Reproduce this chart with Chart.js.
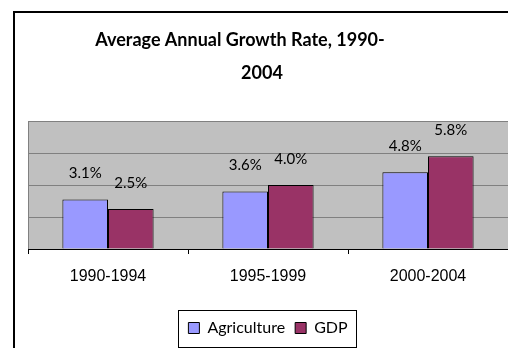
<!DOCTYPE html>
<html>
<head>
<meta charset="utf-8">
<script src="https://cdn.jsdelivr.net/npm/chart.js@4/dist/chart.umd.min.js"></script>
<style>
  html, body { margin: 0; padding: 0; background: #fff; overflow: hidden; }
  #wrap { position: relative; width: 508px; height: 348px; overflow: hidden; }
  #frame {
    position: absolute; left: 13px; top: 11px; width: 520px; height: 360px;
    border-left: 2px solid #000; border-top: 2px solid #000;
  }
  #myBarChart { position: absolute; left: 0; top: 0; }
</style>
</head>
<body>
<div id="wrap">
  <div id="frame"></div>
  <canvas id="myBarChart" width="508" height="348"></canvas>
</div>
<script>
// Growth rates in percent per period
const periods = ["1990-1994", "1995-1999", "2000-2004"];
const agriculture = [3.1, 3.6, 4.8];
const gdp = [2.5, 4.0, 5.8];
const titleLines = ["Average Annual Growth Rate, 1990-", "2004"];

// grey plot background
const plotBackground = {
  id: "plotBackground",
  beforeDraw(chart) {
    const { ctx, chartArea } = chart;
    ctx.save();
    ctx.fillStyle = "#C0C0C0";
    ctx.fillRect(chartArea.left, chartArea.top, chartArea.right - chartArea.left, chartArea.bottom - chartArea.top);
    ctx.restore();
  },
};

// wrapped two-line title, the first line keeps its trailing gap
const wrappedTitle = {
  id: "wrappedTitle",
  afterDraw(chart) {
    const ctx = chart.ctx;
    ctx.save();
    ctx.font = "bold 18px Lato";
    ctx.fillStyle = "#000";
    ctx.textAlign = "center";
    ctx.textBaseline = "middle";
    ctx.fillText(titleLines[0], 240, 40);
    ctx.fillText(titleLines[1], 262, 73);
    ctx.restore();
  },
};

// value labels floating above each bar
const valueLabels = {
  id: "valueLabels",
  afterDatasetsDraw(chart) {
    const ctx = chart.ctx;
    ctx.save();
    ctx.font = "15px Lato";
    ctx.fillStyle = "#000";
    ctx.textAlign = "center";
    ctx.textBaseline = "middle";
    chart.data.datasets.forEach((ds, i) => {
      chart.getDatasetMeta(i).data.forEach((bar, j) => {
        ctx.fillText(ds.data[j].toFixed(1) + "%", bar.x, bar.y - 26);
      });
    });
    ctx.restore();
  },
};

// thin box round the legend
const legendBox = {
  id: "legendBox",
  afterDraw(chart) {
    const boxes = chart.legend.legendHitBoxes;
    if (!boxes.length) return;
    const left = Math.min(...boxes.map((b) => b.left)) - 10;
    const right = Math.max(...boxes.map((b) => b.left + b.width)) + 9;
    const mid = boxes[0].top + boxes[0].height / 2;
    const ctx = chart.ctx;
    ctx.save();
    ctx.strokeStyle = "#000";
    ctx.lineWidth = 1;
    ctx.strokeRect(Math.round(left) + 0.5, Math.round(mid - 18) + 0.5, Math.round(right - left), 37);
    ctx.restore();
  },
};

const barChart = document.getElementById("myBarChart").getContext("2d");
const myBarChart = new Chart(barChart, {
  type: "bar",
  data: {
    labels: periods,
    datasets: [
      {
        label: "Agriculture",
        data: agriculture,
        backgroundColor: "#9999FF",
        borderColor: "#000",
        borderWidth: 1,
      },
      {
        label: "GDP",
        data: gdp,
        backgroundColor: "#993366",
        borderColor: "#000",
        borderWidth: 1,
      },
    ],
  },
  options: {
    responsive: false,
    animation: false,
    categoryPercentage: 0.57,
    barPercentage: 1,
    layout: {
      padding: { left: 28, right: 0, top: 121, bottom: 2 },
    },
    scales: {
      y: {
        min: 0,
        max: 8,
        ticks: { stepSize: 2, display: false },
        grid: { color: "#808080", drawTicks: false },
        border: { color: "#808080" },
      },
      x: {
        grid: {
          drawOnChartArea: false,
          tickLength: 5,
          color: "#000",
        },
        border: { color: "#000" },
        ticks: {
          color: "#000",
          padding: 13,
          font: { family: "Liberation Sans", size: 16 },
        },
        afterFit(scale) {
          scale.height = 61;
        },
      },
    },
    plugins: {
      title: { display: false },
      legend: {
        position: "bottom",
        labels: {
          color: "#000",
          boxWidth: 11,
          boxHeight: 11,
          padding: 10,
          font: { family: "Lato", size: 16 },
        },
      },
      tooltip: { enabled: false },
    },
  },
  plugins: [plotBackground, valueLabels, legendBox, wrappedTitle],
});
</script>
</body>
</html>
